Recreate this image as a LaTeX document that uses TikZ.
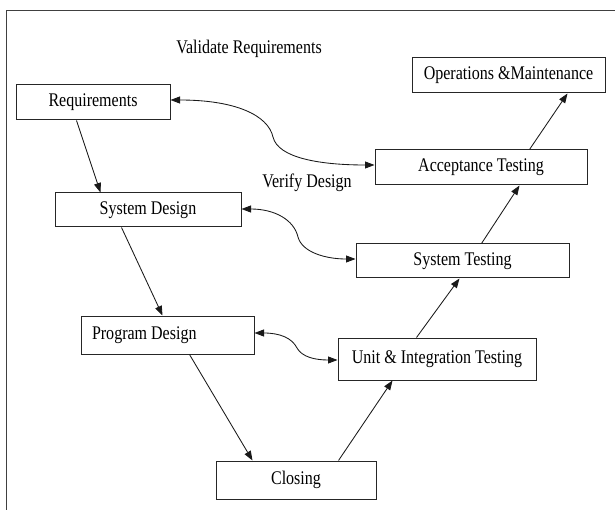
\documentclass[tikz,border=0pt]{standalone}
\usepackage{fontspec}
\setmainfont{Liberation Serif}[FakeStretch=0.83]
\usetikzlibrary{arrows.meta}
\tikzset{
  box/.style={draw=black!85, line width=1pt, inner sep=0pt, minimum height=35pt, font=\fontsize{19.3}{21}\selectfont},
  lbl/.style={inner sep=0pt, font=\fontsize{19.3}{21}\selectfont},
  flow/.style={draw=black!90, line width=0.85pt, -{Triangle[length=9.5pt,width=7pt]}},
  both/.style={draw=black!90, line width=0.85pt, {Triangle[length=9.5pt,width=7pt]}-{Triangle[length=9.5pt,width=7pt]}},
  frame/.style={draw=black!75, line width=1pt}
}
\begin{document}
\begin{tikzpicture}[x=1pt,y=-1pt]
\useasboundingbox (0,0) rectangle (615,510);
\coordinate (ftr) at (615,10.5);
\coordinate (ftl) at (6.5,10.5);
\coordinate (fbl) at (6.5,510);
\draw[frame] (ftr) -- (ftl) -- (fbl);

\node[box, minimum width=154pt, minimum height=35pt] (req) at (93,102.5) {Requirements};
\node[box, minimum width=193pt, minimum height=35pt] (ops) at (508.5,75.5) {Operations \&Maintenance};
\node[box, minimum width=212pt, minimum height=35pt] (acc) at (481,167.5) {Acceptance Testing};
\node[box, minimum width=186pt, minimum height=34pt] (sd) at (148,210) {System Design};
\node[box, minimum width=213pt, minimum height=34pt] (st) at (462.5,261) {System Testing};
\node[box, minimum width=173pt, minimum height=38pt] (pd) at (167.5,335) {\makebox[151pt][l]{Program Design}};
\node[box, minimum width=198pt, minimum height=42pt] (unit) at (437,359) {Unit \& Integration Testing};
\node[box, minimum width=160pt, minimum height=38pt] (clo) at (296,480) {Closing};

\node[lbl] (val) at (249,49) {Validate Requirements};
\node[lbl] (ver) at (307,183) {Verify Design};

% straight flow arrows
\draw[flow] ([xshift=61pt]req.south west) -- ([xshift=46pt]sd.north west);
\draw[flow] ([xshift=67pt]sd.south west) -- ([xshift=82pt]pd.north west);
\draw[flow] ([xshift=109pt]pd.south west) -- ([xshift=37pt]clo.north west);
\draw[flow] ([xshift=123pt]clo.north west) -- ([xshift=55pt]unit.south west);
\draw[flow] ([xshift=79pt]unit.north west) -- ([xshift=104pt]st.south west);
\draw[flow] ([xshift=126pt]st.north west) -- ([xshift=145pt]acc.south west);
\draw[flow] ([xshift=155pt]acc.north west) -- ([xshift=156pt]ops.south west);

% curved double arrows
\coordinate (m1) at (273,137);
\coordinate (m2) at (298,237);
\coordinate (m3) at (297,348);
\draw[both] ([yshift=2.5pt]req.east) .. controls (235,100) and (268,115) .. (m1) .. controls (278,158) and (320,165) .. ([yshift=2.5pt]acc.west);
\draw[both] ([yshift=1pt]sd.east) .. controls (275,209) and (294,220) .. (m2) .. controls (302,252) and (325,259) .. ([yshift=2pt]st.west);
\draw[both] ([yshift=2pt]pd.east) .. controls (280,333) and (292,338) .. (m3) .. controls (302,357) and (315,360) .. ([yshift=-1pt]unit.west);
\end{tikzpicture}
\end{document}
